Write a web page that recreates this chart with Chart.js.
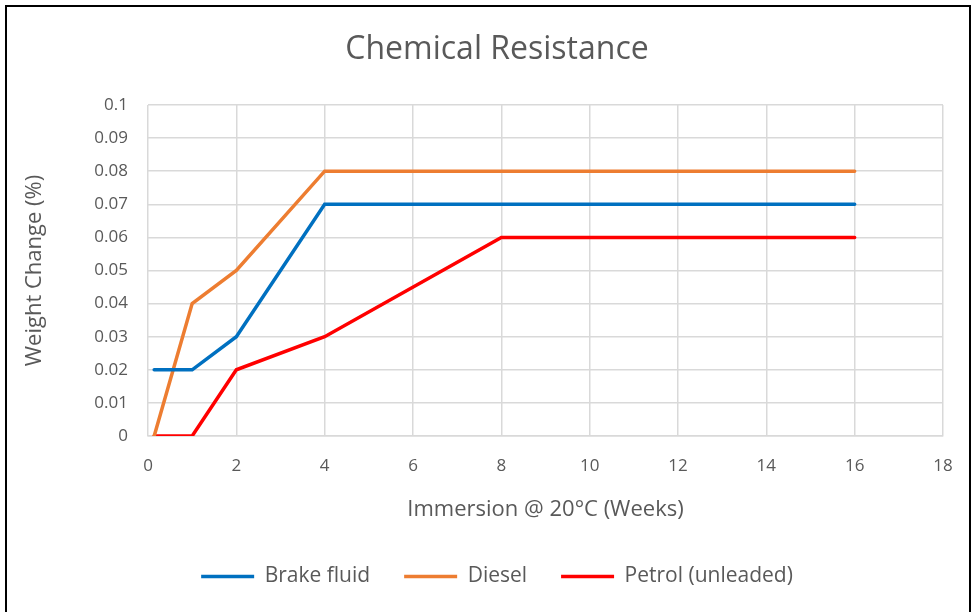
<!DOCTYPE html>
<html>
<head>
<meta charset="utf-8">
<script src="https://cdn.jsdelivr.net/npm/chart.js@4"></script>
<style>
  html, body { margin: 0; padding: 0; background: #fff; overflow: hidden; }
  #frame { position: absolute; left: 5px; top: 5px; width: 966px; height: 640px; border: 2px solid #000; box-sizing: border-box; }
  #chemChart { position: absolute; left: 0; top: 0; }
</style>
</head>
<body>
<div id="frame"></div>
<canvas id="chemChart" width="974" height="612"></canvas>
<script>
// --- Data ---
const weeks = [0.14, 1, 2, 4, 8, 16]
const brakeFluid = [0.02, 0.02, 0.03, 0.07, 0.07, 0.07]
const diesel = [0, 0.04, 0.05, 0.08, 0.08, 0.08]
const petrol = [0, 0, 0.02, 0.03, 0.06, 0.06]
const seriesNames = ['Brake fluid', 'Diesel', 'Petrol (unleaded)']
const seriesColors = ['#0070C0', '#ED7D31', '#FF0000']

const textColor = '#595959'
const gridColor = '#D9D9D9'
const fontFamily = '"Open Sans", sans-serif'

function toPoints(values) {
  return values.map((v, i) => ({ x: weeks[i], y: v }))
}

const datasets = [brakeFluid, diesel, petrol].map((vals, i) => ({
  label: seriesNames[i],
  data: toPoints(vals),
  borderColor: seriesColors[i],
  backgroundColor: seriesColors[i],
  borderWidth: 3.5,
  borderCapStyle: 'round',
  pointRadius: 0,
  tension: 0,
}))

// keep the legend a fixed height so its item spacing can be wider
const legendHeight = {
  id: 'legendHeight',
  beforeInit(chart) {
    const legend = chart.legend
    if (!legend) return
    const fit = legend.fit
    legend.fit = function () {
      fit.call(this)
      this.height = 80
    }
  },
}

new Chart(document.getElementById('chemChart'), {
  type: 'line',
  data: { datasets },
  plugins: [legendHeight],
  options: {
    responsive: false,
    animation: false,
    layout: { padding: { left: 20, right: 0, top: 0, bottom: 0 } },
    plugins: {
      title: {
        display: true,
        text: 'Chemical Resistance',
        color: textColor,
        font: { family: fontFamily, size: 32, weight: 'normal' },
        padding: { top: 31, bottom: 35.6 },
      },
      legend: {
        position: 'bottom',
        labels: {
          usePointStyle: true,
          pointStyle: 'line',
          pointStyleWidth: 53,
          color: textColor,
          font: { family: fontFamily, size: 21 },
          padding: 34,
        },
      },
      tooltip: { enabled: false },
    },
    scales: {
      x: {
        type: 'linear',
        min: 0,
        max: 18,
        ticks: { stepSize: 2, color: textColor, font: { family: fontFamily, size: 17 }, padding: 20 },
        grid: { color: gridColor, lineWidth: 1.5, drawTicks: false },
        border: { color: gridColor, width: 1.5 },
        title: {
          display: true,
          text: 'Immersion @ 20°C (Weeks)',
          color: textColor,
          font: { family: fontFamily, size: 22 },
          padding: { top: 0, bottom: 9 },
        },
        afterFit: (scale) => { scale.height = 96 },
      },
      y: {
        min: 0,
        max: 0.1,
        ticks: {
          stepSize: 0.01,
          color: textColor,
          font: { family: fontFamily, size: 17 },
          padding: 20,
          callback: (v) => String(Number(v.toFixed(2))),
        },
        grid: { color: gridColor, lineWidth: 1.5, drawTicks: false },
        border: { display: false },
        title: {
          display: true,
          text: 'Weight Change (%)',
          color: textColor,
          font: { family: fontFamily, size: 22 },
          padding: { top: 2, bottom: 0 },
        },
        afterFit: (scale) => { scale.width = 128 },
      },
      // empty right-hand axis: only reserves the gap right of the plot
      y2: {
        position: 'right',
        ticks: { display: false },
        grid: { display: false },
        border: { display: false },
        afterFit: (scale) => { scale.width = 31 },
      },
    },
  },
})
</script>
</body>
</html>
